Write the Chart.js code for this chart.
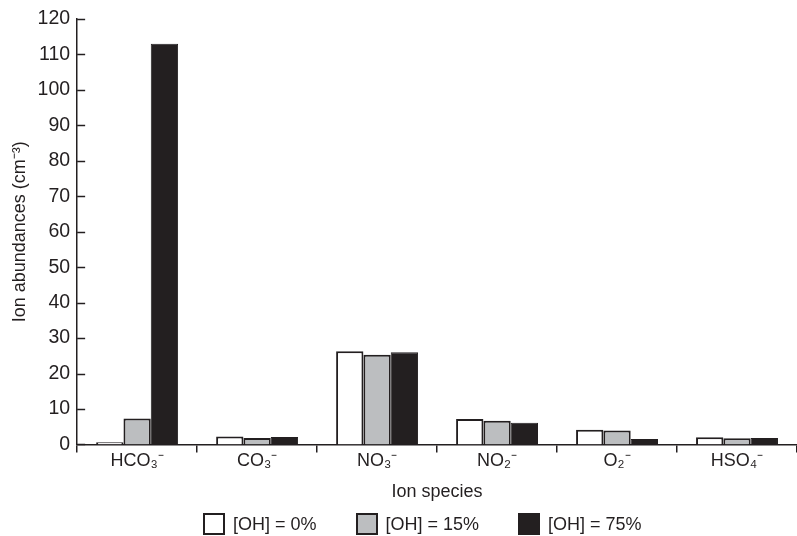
<!DOCTYPE html>
<html>
<head>
<meta charset="utf-8">
<title>Ion abundances by species</title>
<script src="https://cdn.jsdelivr.net/npm/chart.js@4.4.1/dist/chart.umd.min.js"></script>
<style>
  html, body { margin: 0; padding: 0; background: #ffffff; }
  #wrap { position: relative; width: 797px; height: 536px; }
  #chart { position: absolute; left: 0; top: 0; }
  #legend {
    position: absolute; left: 203px; top: 513px;
    display: flex; align-items: center; gap: 39px;
    font-family: "Liberation Sans", Arial, sans-serif; font-size: 18px; color: #231f20;
  }
  .item { display: flex; align-items: center; }
  .swatch { width: 18px; height: 18px; border: 2px solid #231f20; margin-right: 8px; }
</style>
</head>
<body>
<div id="wrap">
  <canvas id="chart" width="797" height="536"></canvas>
  <div id="legend"></div>
</div>
<script>
// Ion species (category axis)
const categories = ['HCO\u2083\u207B', 'CO\u2083\u207B', 'NO\u2083\u207B', 'NO\u2082\u207B', 'O\u2082\u207B', 'HSO\u2084\u207B'];

// Ion abundances (cm^-3) for each OH fraction
const ohLabels = ['[OH] = 0%', '[OH] = 15%', '[OH] = 75%'];
const oh0  = [0.6, 2.2, 26.3, 7.2, 4.1, 2.0];
const oh15 = [7.3, 1.8, 25.3, 6.7, 3.9, 1.7];
const oh75 = [113, 2.1, 26.0, 6.1, 1.5, 1.8];

// y-axis ticks
const yMin = 0, yMax = 120, yStep = 10;

const INK = '#231f20';
const FONT = '"Liberation Sans", Arial, sans-serif';

// Short tick marks drawn inward from the y axis line
const inwardTicks = {
  id: 'inwardTicks',
  afterDraw(chart) {
    const y = chart.scales.y;
    const left = chart.chartArea.left;
    const ctx = chart.ctx;
    ctx.save();
    ctx.strokeStyle = INK;
    ctx.lineWidth = 1.5;
    y.ticks.forEach((t, i) => {
      const py = Math.round(y.getPixelForTick(i)) + 0.5;
      ctx.beginPath();
      ctx.moveTo(left, py);
      ctx.lineTo(left + 8, py);
      ctx.stroke();
    });
    ctx.restore();
  }
};

const chart = new Chart(document.getElementById('chart'), {
  type: 'bar',
  data: {
    labels: categories,
    datasets: [
      { label: ohLabels[0], data: oh0,  backgroundColor: '#ffffff', borderColor: INK, borderWidth: 2 },
      { label: ohLabels[1], data: oh15, backgroundColor: '#bcbec0', borderColor: INK, borderWidth: 2 },
      { label: ohLabels[2], data: oh75, backgroundColor: INK,       borderColor: INK, borderWidth: 1 }
    ]
  },
  options: {
    responsive: false,
    animation: false,
    devicePixelRatio: 1,
    layout: { padding: { top: 19, right: 0, bottom: 33, left: 0 } },
    datasets: { bar: { categoryPercentage: 0.683, barPercentage: 1.0 } },
    plugins: {
      legend: { display: false },
      tooltip: { enabled: false }
    },
    scales: {
      x: {
        grid: { display: true, drawOnChartArea: false, drawTicks: true, tickLength: 8, color: INK, lineWidth: 1.5 },
        border: { display: true, color: INK, width: 1.5 },
        ticks: { color: INK, padding: 0, font: { family: FONT, size: 18, lineHeight: 1 } },
        title: { display: true, text: 'Ion species', color: INK, padding: { top: 11, bottom: 0 },
                 font: { family: FONT, size: 18 } }
      },
      y: {
        min: yMin, max: yMax,
        grid: { display: false, drawTicks: false },
        border: { display: true, color: INK, width: 1.5 },
        ticks: { stepSize: yStep, color: INK, padding: 7, font: { family: FONT, size: 19.5 } },
        title: { display: true, text: 'Ion abundances (cm\u207B\u00B3)', color: INK,
                 padding: { top: 9, bottom: 0 }, font: { family: FONT, size: 18 } }
      }
    }
  },
  plugins: [inwardTicks]
});

// Legend built from the chart's datasets
const legend = document.getElementById('legend');
chart.data.datasets.forEach(ds => {
  const item = document.createElement('div');
  item.className = 'item';
  const sw = document.createElement('span');
  sw.className = 'swatch';
  sw.style.background = ds.backgroundColor;
  const txt = document.createElement('span');
  txt.textContent = ds.label;
  item.appendChild(sw);
  item.appendChild(txt);
  legend.appendChild(item);
});
</script>
</body>
</html>
